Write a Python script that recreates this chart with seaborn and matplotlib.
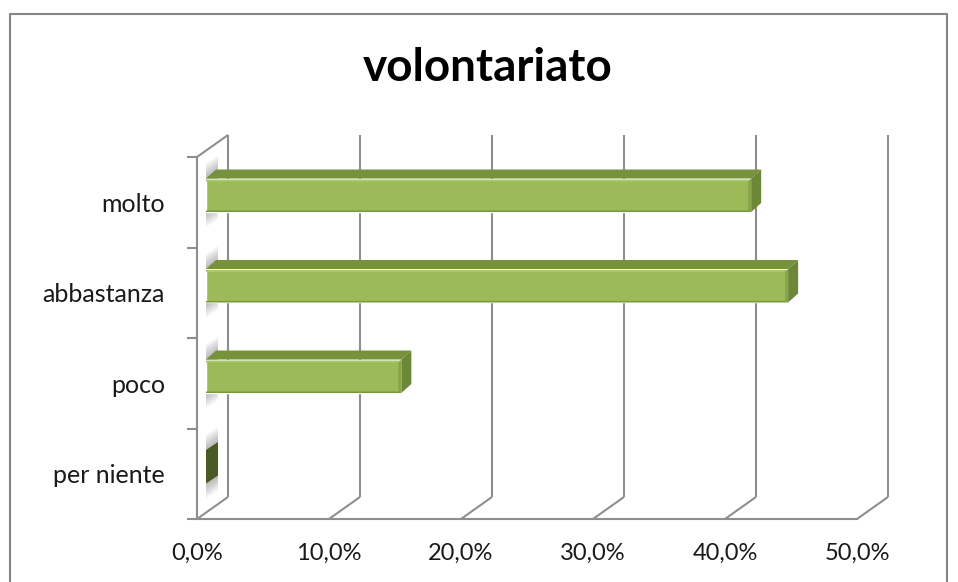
from __future__ import annotations

import matplotlib
import matplotlib.pyplot as plt
import pandas as pd
import seaborn as sns
from matplotlib.lines import Line2D
from matplotlib.patches import Polygon
from matplotlib.ticker import FixedLocator, FuncFormatter
from matplotlib.transforms import Affine2D, IdentityTransform

matplotlib.use("Agg")

TITLE = "volontariato"
CATEGORIES = ["molto", "abbastanza", "poco", "per niente"]
VALUES = [41.3, 44.1, 14.8, 0.0]
X_TICKS = [0, 10, 20, 30, 40, 50]

WIDTH, HEIGHT = 958, 582
LINE = "#8e8e8e"
WALL_DX, WALL_DY = 31, 22
BAR_DX, BAR_DY = 9, 7
DEPTH_DX, DEPTH_DY = 10, 9


def add_poly(fig, points, color, zorder=3, alpha=None):
    fig.add_artist(
        Polygon(points, closed=True, facecolor=color, edgecolor="none",
                alpha=alpha, transform=IdentityTransform(), zorder=zorder)
    )


def add_line(fig, xs, ys, color=LINE, lw=1.5, zorder=1):
    fig.add_artist(
        Line2D(xs, ys, color=color, lw=lw, transform=IdentityTransform(),
               zorder=zorder, solid_capstyle="butt")
    )


def main() -> None:
    sns.set_theme(style="white")
    plt.rcParams["font.family"] = ["Lato", "DejaVu Sans"]

    fig = plt.figure(figsize=(WIDTH / 100, HEIGHT / 100), dpi=100)
    ax = fig.add_axes(
        [197 / WIDTH, 1 - 519 / HEIGHT, 660 / WIDTH, 362 / HEIGHT], facecolor="none"
    )
    ax.set_zorder(2)

    data = pd.DataFrame({"categoria": CATEGORIES, "valore": VALUES})
    sns.barplot(
        data=data, x="valore", y="categoria", color="#9bbb59", saturation=1,
        width=0.37, order=CATEGORIES, ax=ax,
    )

    ax.set_xlim(0, 50)
    ax.set_ylim(3.5, -0.5)
    ax.set_xlabel("")
    ax.set_ylabel("")
    ax.xaxis.set_major_locator(FixedLocator(X_TICKS))
    ax.xaxis.set_major_formatter(
        FuncFormatter(lambda v, _: f"{v:.1f}%".replace(".", ","))
    )
    ax.yaxis.set_minor_locator(FixedLocator([-0.5, 0.5, 1.5, 2.5, 3.5]))
    ax.tick_params(axis="x", length=7, width=1.5, color=LINE, pad=10,
                   labelsize=17, labelcolor="#1a1a1a")
    ax.tick_params(axis="y", which="major", length=0, pad=23,
                   labelsize=18, labelcolor="#1a1a1a")
    ax.tick_params(axis="y", which="minor", left=True, length=7, width=1.5, color=LINE)
    for label in ax.get_yticklabels():
        label.set_verticalalignment("center_baseline")
    sns.despine(ax=ax, top=True, right=True)
    for side in ("left", "bottom"):
        ax.spines[side].set_color(LINE)
        ax.spines[side].set_linewidth(1.5)

    fig.canvas.draw()
    to_px = ax.transData.transform
    shift = Affine2D().translate(BAR_DX, BAR_DY)

    # floor and back wall, offset from the value axis
    y_floor = to_px((0, 3.5))[1]
    y_top = to_px((0, -0.5))[1]
    for tick in X_TICKS:
        x = to_px((tick, 3.5))[0]
        add_line(fig, [x, x + WALL_DX], [y_floor, y_floor + WALL_DY])
        add_line(fig, [x + WALL_DX, x + WALL_DX],
                 [y_floor + WALL_DY, y_top + WALL_DY])
    x0 = to_px((0, 3.5))[0]
    add_line(fig, [x0, x0 + WALL_DX], [y_top, y_top + WALL_DY])

    # 3D faces of the bars
    for bar, value in zip(ax.patches, VALUES):
        box = bar.get_window_extent()
        left, right = box.x0 + BAR_DX, box.x1 + BAR_DX
        low, high = box.y0 + BAR_DY, box.y1 + BAR_DY

        # soft shadow on the side wall
        for grow in range(15, 0, -2):
            add_poly(fig, [(left, low - grow), (left + 12, low + 8 - grow),
                           (left + 12, high + 8 + grow), (left, high + grow)],
                     "#555555", zorder=1.5, alpha=0.06)

        if value == 0:
            bar.set_visible(False)
            add_poly(fig, [(left, low), (left + 12, low + 8),
                           (left + 12, high + 8), (left, high)], "#4a5a24")
            continue

        bar.set_transform(bar.get_data_transform() + shift)
        add_poly(fig, [(left, high), (right, high),
                       (right + DEPTH_DX, high + DEPTH_DY),
                       (left + DEPTH_DX, high + DEPTH_DY)], "#76923c")
        add_poly(fig, [(right, low), (right + DEPTH_DX, low + DEPTH_DY),
                       (right + DEPTH_DX, high + DEPTH_DY), (right, high)], "#6b8737")
        # bevels on the front face
        add_poly(fig, [(left, high - 3), (right - 3, high - 3),
                       (right - 1, high - 1), (left, high - 1)], "#a8c96a", zorder=4)
        add_poly(fig, [(right - 3, low + 2), (right, low),
                       (right, high), (right - 3, high - 3)], "#86a548", zorder=4)
        add_poly(fig, [(left, low), (right, low),
                       (right - 2, low + 1.5), (left, low + 1.5)], "#7a963f", zorder=4)

    # chart frame, open at the bottom
    add_line(fig, [10, 10, 947, 947], [0, HEIGHT - 14, HEIGHT - 14, 0],
             color="#868686", lw=1.5, zorder=0.5)

    fig.text(488 / WIDTH, 1 - 68 / HEIGHT, TITLE, ha="center", va="center",
             fontsize=33, fontweight="bold", color="black")

    fig.savefig("out.png", dpi=100)
    plt.close(fig)


if __name__ == "__main__":
    main()
